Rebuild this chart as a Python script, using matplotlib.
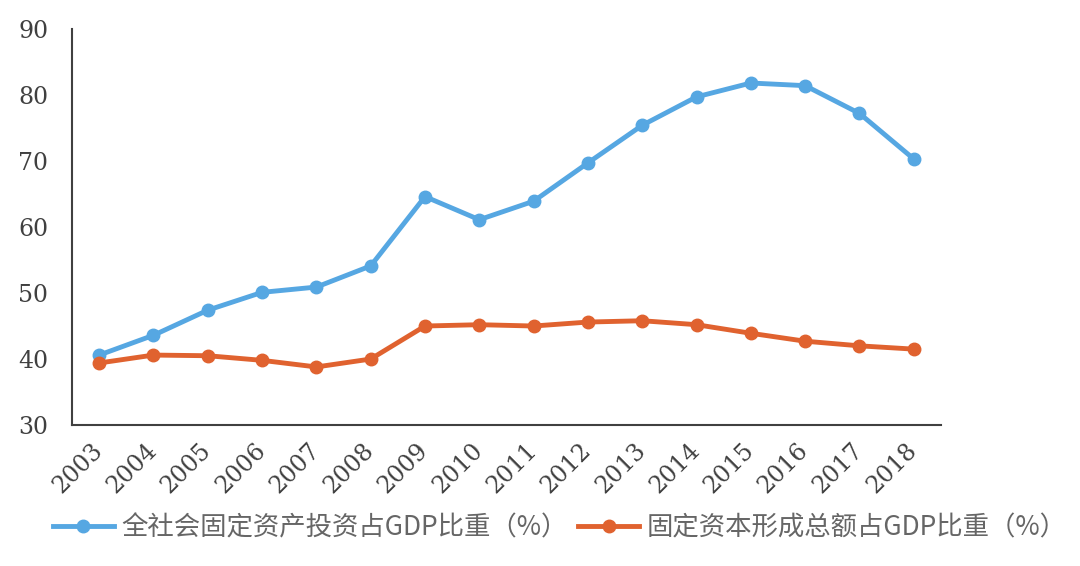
import numpy as np
import matplotlib
matplotlib.use('Agg')
import matplotlib.pyplot as plt
from matplotlib.transforms import ScaledTranslation

## Data

years = ['2003', '2004', '2005', '2006', '2007', '2008', '2009', '2010',
         '2011', '2012', '2013', '2014', '2015', '2016', '2017', '2018']
invest_share = [40.6, 43.6, 47.4, 50.1, 50.9, 54.1, 64.6, 61.1,
                63.9, 69.7, 75.4, 79.7, 81.8, 81.4, 77.2, 70.3]
capital_share = [39.4, 40.6, 40.5, 39.8, 38.8, 40.0, 45.0, 45.2,
                 45.0, 45.6, 45.8, 45.2, 43.9, 42.7, 42.0, 41.5]
labels = ['全社会固定资产投资占GDP比重（%）', '固定资本形成总额占GDP比重（%）']
yticks = [30, 40, 50, 60, 70, 80, 90]

## Settings

plt.rcParams['font.family'] = ['Noto Sans CJK SC', 'DejaVu Sans']

fig = plt.figure(figsize=(10.8, 5.66), dpi=100)
ax = fig.add_axes([0.0667, 0.249, 0.8045, 0.70])

x = np.arange(len(years))
ax.plot(x, invest_share, color='#56a7e2', lw=3.5, marker='o', ms=9, label=labels[0])
ax.plot(x, capital_share, color='#e0622f', lw=3.5, marker='o', ms=9, label=labels[1])

ax.set_xlim(-0.5, len(years) - 0.5)
ax.set_ylim(30, 90)
ax.set_yticks(yticks)
ax.set_xticks(x)

tick_font = dict(family='DejaVu Serif', size=17, color='#404040')
ax.set_yticklabels([str(t) for t in yticks], **tick_font)
ax.set_xticklabels(years, rotation=45, ha='right', va='top', **tick_font)
ax.tick_params(axis='both', length=0)
ax.tick_params(axis='y', pad=17)
ax.tick_params(axis='x', pad=10)
# nudge the rotated year labels a little to the right
shift = ScaledTranslation(8 / 100, 0, fig.dpi_scale_trans)
for lbl in ax.get_xticklabels():
    lbl.set_transform(lbl.get_transform() + shift)

for s in ['top', 'right']:
    ax.spines[s].set_visible(False)
for s in ['left', 'bottom']:
    ax.spines[s].set_color('#404040')
    ax.spines[s].set_linewidth(1.5)

fig.legend(loc='center left', bbox_to_anchor=(0.027, 0.067), ncol=2, frameon=False,
           prop={'family': ['Noto Sans CJK SC', 'DejaVu Sans'], 'size': 19},
           labelcolor='#666666', handlelength=2.3, handletextpad=0.3, columnspacing=0.4)

fig.savefig('out.png', dpi=100)
